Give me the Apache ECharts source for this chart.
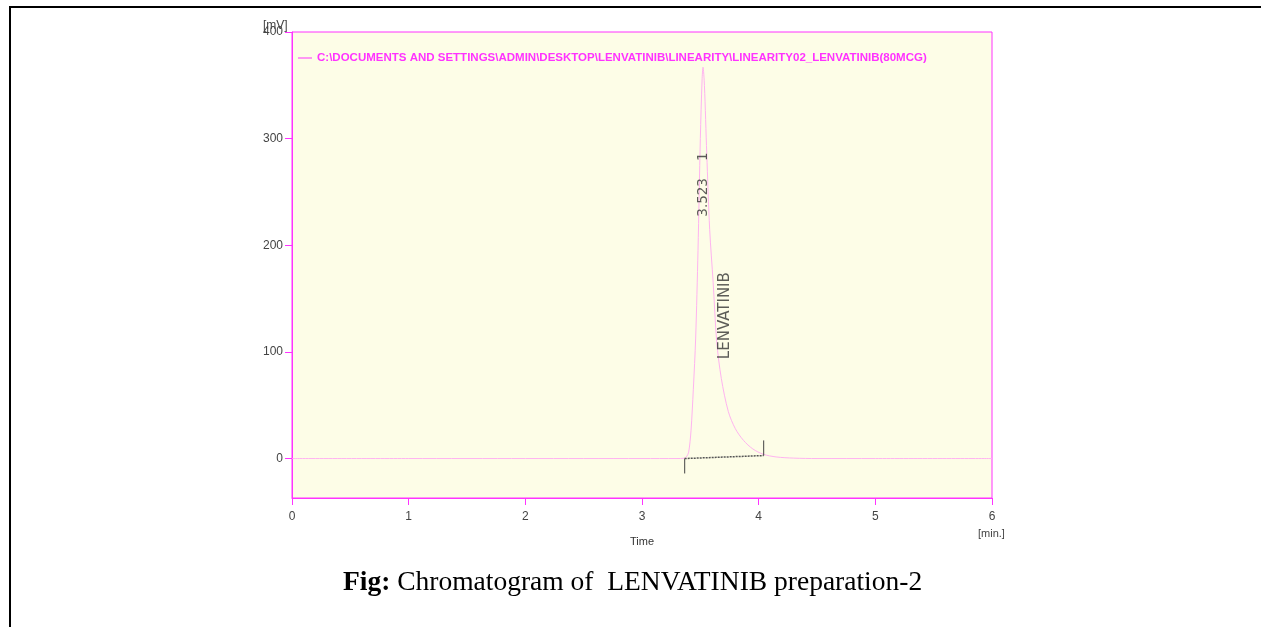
<!DOCTYPE html>
<html>
<head>
<meta charset="utf-8">
<script src="https://cdn.jsdelivr.net/npm/echarts@6/dist/echarts.min.js"></script>
<style>
  html, body { margin: 0; padding: 0; background: #ffffff; }
  #chart { width: 1261px; height: 627px; }
</style>
</head>
<body>
<div id="chart"></div>
<script>
// Detector trace: retention time (min) and signal (mV)
const traceTime = [0, 1, 2, 3, 3.30, 3.36, 3.38, 3.40, 3.42, 3.44, 3.46, 3.48, 3.50, 3.515, 3.523,
  3.535, 3.555, 3.58, 3.61, 3.64, 3.68, 3.74, 3.80, 3.87, 3.95, 4.04, 4.15, 4.30, 4.50, 5, 6];
const traceSignal = [0, 0, 0, 0, 0, 0.3, 1.5, 6, 26, 65, 113, 195, 300, 355, 367,
  350, 286, 215, 165, 110, 75, 44, 28, 17, 9, 4, 1.5, 0.4, 0, 0, 0];

// Integration baseline (start / end of peak) and its marker ticks
const baseTime = [3.366, 4.043];
const baseSignal = [0, 2.8];
const startTick = [0, -14];
const endTick = [2.8, 17];

// Peak annotations
const peakRT = 3.523;
const peakNumber = '1';
const peakName = 'LENVATINIB';

const fileName = 'C:\\DOCUMENTS AND SETTINGS\\ADMIN\\DESKTOP\\LENVATINIB\\LINEARITY\\LINEARITY02_LENVATINIB(80MCG)';
const yTicks = [0, 100, 200, 300, 400];
const xTicks = [0, 1, 2, 3, 4, 5, 6];

const MAGENTA = '#ff33ff';
const TRACE = '#ffb3f0';

const chart = echarts.init(document.getElementById('chart'));

const traceData = traceTime.map((t, i) => [t, traceSignal[i]]);

chart.setOption({
  backgroundColor: '#ffffff',
  animation: false,
  textStyle: { fontFamily: 'Liberation Sans, Arial, sans-serif' },
  grid: {
    left: 292, right: 269, top: 32, bottom: 129,
    show: true, backgroundColor: '#fdfde7',
    borderColor: MAGENTA, borderWidth: 1
  },
  legend: {
    left: 293, top: 47,
    itemWidth: 14, itemHeight: 1, itemGap: 0,
    icon: 'rect',
    data: [{ name: fileName, itemStyle: { color: MAGENTA } }],
    textStyle: {
      color: MAGENTA, fontWeight: 'bold', fontSize: 11.5,
      fontFamily: 'Liberation Sans, Arial, sans-serif'
    }
  },
  xAxis: {
    type: 'value', min: 0, max: 6, interval: 1,
    name: 'Time', nameLocation: 'middle', nameGap: 38,
    nameTextStyle: { color: '#333', fontSize: 11 },
    axisLine: { show: true, onZero: false, lineStyle: { color: MAGENTA, width: 1 } },
    axisTick: { show: true, length: 7, lineStyle: { color: MAGENTA } },
    axisLabel: { color: '#444', fontSize: 12, margin: 13 },
    splitLine: { show: false }
  },
  yAxis: {
    type: 'value', min: -37, max: 400,
    axisLine: { show: true, lineStyle: { color: MAGENTA, width: 1 } },
    axisTick: { show: true, length: 7, lineStyle: { color: MAGENTA }, customValues: yTicks },
    axisLabel: { color: '#444', fontSize: 12, margin: 9, customValues: yTicks },
    splitLine: { show: false }
  },
  series: [
    {
      name: fileName, type: 'line', data: traceData,
      showSymbol: false, smooth: 0.3,
      lineStyle: { color: TRACE, width: 1 }, itemStyle: { color: MAGENTA },
      z: 3
    },
    {
      name: 'baseline', type: 'line',
      data: baseTime.map((t, i) => [t, baseSignal[i]]),
      showSymbol: false,
      lineStyle: { color: '#555', width: 1.5, type: [2, 1] }, z: 4
    },
    {
      name: 'startTick', type: 'line',
      data: startTick.map(v => [baseTime[0], v]),
      showSymbol: false, lineStyle: { color: '#444', width: 1 }, z: 4
    },
    {
      name: 'endTick', type: 'line',
      data: endTick.map(v => [baseTime[1], v]),
      showSymbol: false, lineStyle: { color: '#444', width: 1 }, z: 4
    },
    {
      name: 'peakLabels', type: 'scatter', symbolSize: 0,
      data: [
        { value: [peakRT, 257], label: { formatter: peakRT.toFixed(3) + '    ' + peakNumber } },
        { value: [3.711, 134], label: { formatter: peakName, fontSize: 15 } }
      ],
      label: {
        show: true, rotate: 90, position: 'inside',
        color: '#333', fontSize: 13.5, fontFamily: 'DejaVu Sans, sans-serif'
      },
      z: 5
    }
  ],
  graphic: [
    { type: 'rect', shape: { x: 9, y: 6, width: 1252, height: 2 }, style: { fill: '#000' } },
    { type: 'rect', shape: { x: 9, y: 6, width: 2, height: 621 }, style: { fill: '#000' } },
    {
      type: 'text', left: 263, top: 20,
      style: { text: '[mV]', fill: '#444', fontSize: 12, fontFamily: 'Liberation Sans, Arial, sans-serif' }
    },
    {
      type: 'text', left: 978, top: 528,
      style: { text: '[min.]', fill: '#444', fontSize: 11, fontFamily: 'Liberation Sans, Arial, sans-serif' }
    },
    {
      type: 'text', left: 343, top: 569,
      style: {
        text: '{b|Fig:} Chromatogram of  LENVATINIB preparation-2',
        fill: '#000', fontSize: 27.5, fontFamily: 'Liberation Serif, Times New Roman, serif',
        rich: { b: { fontWeight: 'bold', fontSize: 27.5, fontFamily: 'Liberation Serif, Times New Roman, serif' } }
      }
    }
  ]
});
</script>
</body>
</html>
